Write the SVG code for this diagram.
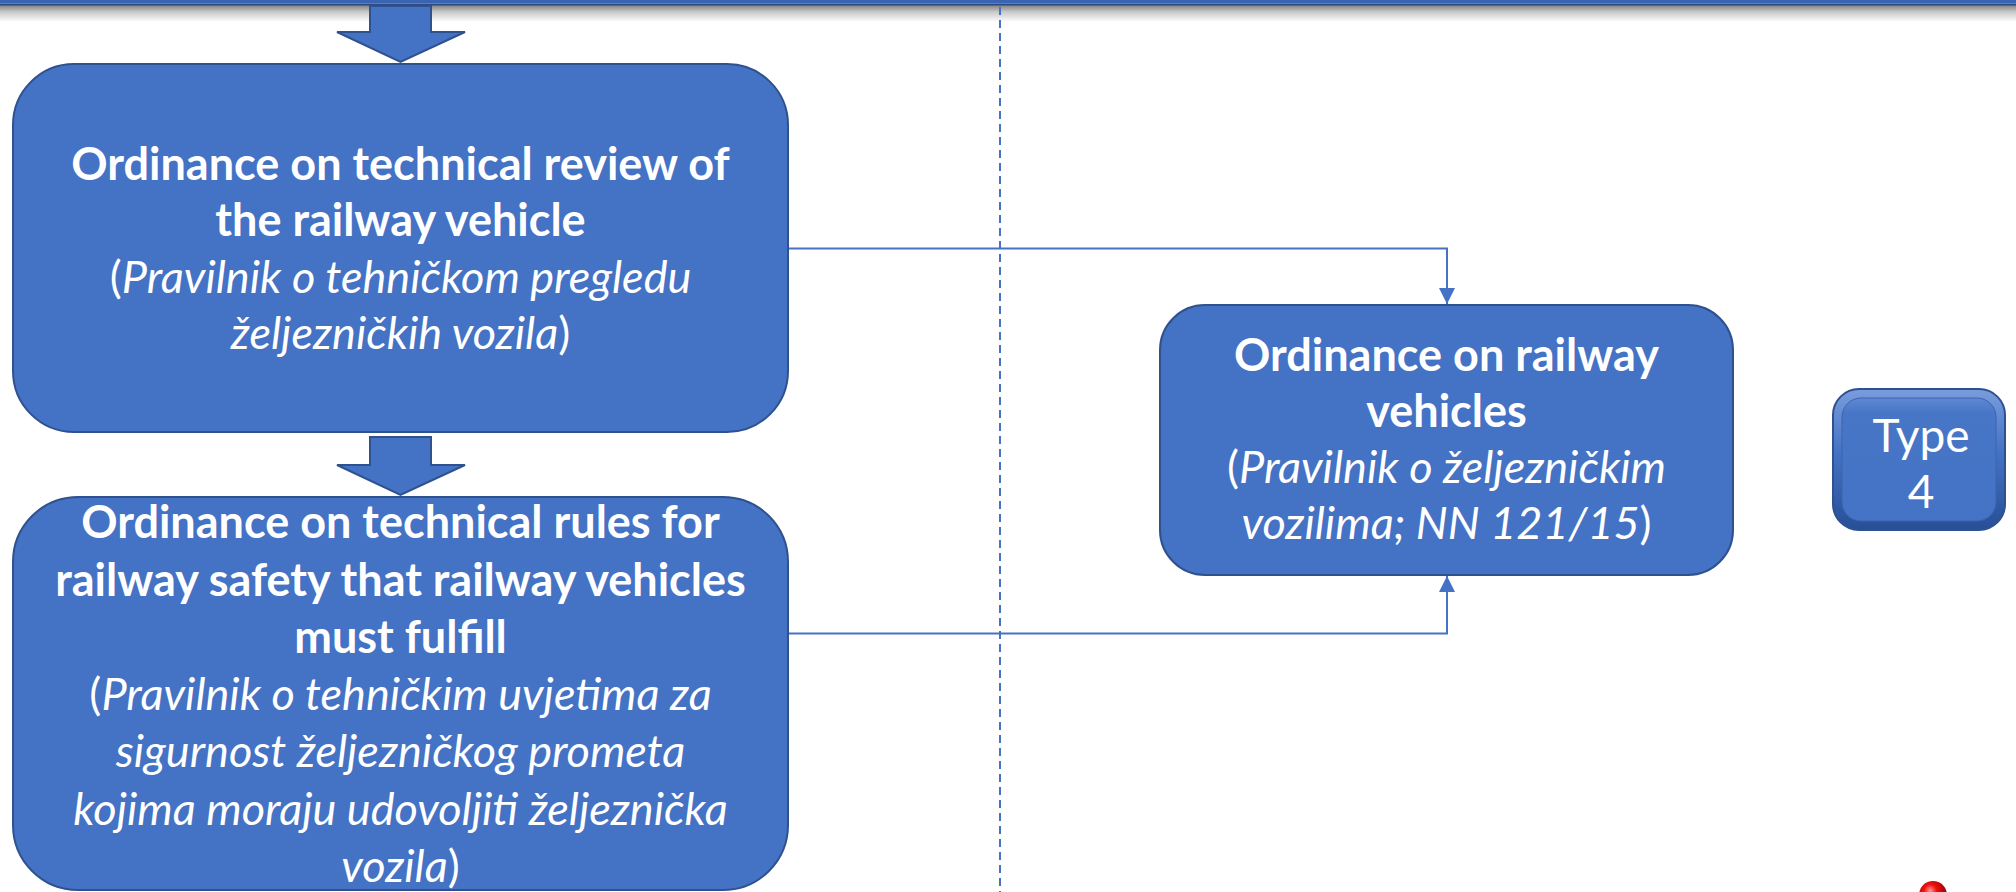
<svg xmlns="http://www.w3.org/2000/svg" width="2016" height="892" viewBox="0 0 2016 892">
<defs>
<linearGradient id="shadow" x1="0" y1="0" x2="0" y2="1">
<stop offset="0" stop-color="#7f7f7f"/>
<stop offset="0.4" stop-color="#c8c8c8"/>
<stop offset="1" stop-color="#ffffff"/>
</linearGradient>
<linearGradient id="bevel" x1="0" y1="0" x2="0" y2="1">
<stop offset="0" stop-color="#7A9CDD"/>
<stop offset="0.45" stop-color="#4472C4"/>
<stop offset="1" stop-color="#274F96"/>
</linearGradient>
<linearGradient id="face" x1="0" y1="0" x2="0" y2="1">
<stop offset="0" stop-color="#5F88D2"/>
<stop offset="0.12" stop-color="#4876C7"/>
<stop offset="1" stop-color="#4472C4"/>
</linearGradient>
<radialGradient id="ball" cx="0.4" cy="0.35" r="0.65">
<stop offset="0" stop-color="#ff9a9a"/>
<stop offset="0.35" stop-color="#f01010"/>
<stop offset="1" stop-color="#8a0000"/>
</radialGradient>
<marker id="tri" viewBox="0 0 16 16" refX="16" refY="8" markerWidth="16" markerHeight="16" markerUnits="userSpaceOnUse" orient="auto">
<path d="M0,0 L16,8 L0,16 Z" fill="#4472C4"/>
</marker>
</defs>
<style>
.box{fill:#4472C4;stroke:#2F528F;stroke-width:2}
.blk{fill:#4472C4;stroke:#2F528F;stroke-width:2;stroke-linejoin:miter}
.t{font-family:Lato,"Noto Sans",sans-serif;font-size:45px;fill:#ffffff;text-anchor:middle}
.b{font-weight:bold}
.i{font-style:italic}
.n{font-style:normal}
.conn{fill:none;stroke:#4472C4;stroke-width:2}
</style>
<rect x="0" y="0" width="2016" height="892" fill="#ffffff"/>
<!-- top bar -->
<rect x="0" y="5" width="2016" height="17" fill="url(#shadow)"/>
<rect x="0" y="0" width="2016" height="3.5" fill="#3A63B2"/>
<rect x="0" y="3.5" width="2016" height="2" fill="#2A4A86"/>
<!-- dashed divider -->
<line x1="1000" y1="7" x2="1000" y2="892" stroke="#4472C4" stroke-width="2" stroke-dasharray="8 5"/>
<!-- block arrows -->
<g id="arrow-top">
<path class="blk" d="M370,6 L431,6 L431,32 L465,32 L400.5,62 L337,32 L370,32 Z"/>
</g>
<g id="arrow-mid">
<path class="blk" d="M370,437 L431,437 L431,465 L465,465 L400.5,495 L337,465 L370,465 Z"/>
</g>
<!-- connectors -->
<g id="connectors">
<path class="conn" d="M788,248.5 H1447 V304" marker-end="url(#tri)"/>
<path class="conn" d="M788,633.5 H1447 V576" marker-end="url(#tri)"/>
</g>
<g id="node-review">
<rect class="box" x="13" y="64" width="775" height="368" rx="61" ry="61"/>
<text class="t b" x="400.5" y="180">Ordinance on technical review of</text>
<text class="t b" x="400.5" y="236">the railway vehicle</text>
<text class="t" x="400.5" y="293"><tspan class="n">(</tspan><tspan class="i">Pravilnik o tehničkom pregledu</tspan></text>
<text class="t" x="400.5" y="349"><tspan class="i">željezničkih vozila</tspan><tspan class="n">)</tspan></text>
</g>
<g id="node-rules">
<rect class="box" x="13" y="497" width="775" height="393" rx="65" ry="65"/>
<text class="t b" x="400.5" y="538">Ordinance on technical rules for</text>
<text class="t b" x="400.5" y="596">railway safety that railway vehicles</text>
<text class="t b" x="400.5" y="653">must fulfill</text>
<text class="t" x="400.5" y="710"><tspan class="n">(</tspan><tspan class="i">Pravilnik o tehničkim uvjetima za</tspan></text>
<text class="t i" x="400.5" y="767">sigurnost željezničkog prometa</text>
<text class="t i" x="400.5" y="825">kojima moraju udovoljiti željeznička</text>
<text class="t" x="400.5" y="882"><tspan class="i">vozila</tspan><tspan class="n">)</tspan></text>
</g>
<g id="node-vehicles">
<rect class="box" x="1160" y="305" width="573" height="270" rx="45" ry="45"/>
<text class="t b" x="1446.5" y="371">Ordinance on railway</text>
<text class="t b" x="1446.5" y="427">vehicles</text>
<text class="t" x="1446.5" y="483"><tspan class="n">(</tspan><tspan class="i">Pravilnik o željezničkim</tspan></text>
<text class="t" x="1446.5" y="539"><tspan class="i">vozilima; NN 121/15</tspan><tspan class="n">)</tspan></text>
</g>
<g id="node-type">
<rect x="1833" y="389" width="172" height="141" rx="26" ry="26" fill="url(#bevel)" stroke="#2F528F" stroke-width="2"/>
<rect x="1842" y="398" width="154" height="123" rx="19" ry="19" fill="url(#face)" stroke="#3A64B0" stroke-width="1"/>
<text class="t" x="1921" y="452" style="font-size:46px">Type</text>
<text class="t" x="1921" y="508" style="font-size:46px">4</text>
</g>
<circle cx="1933" cy="895" r="14" fill="url(#ball)"/>
</svg>
